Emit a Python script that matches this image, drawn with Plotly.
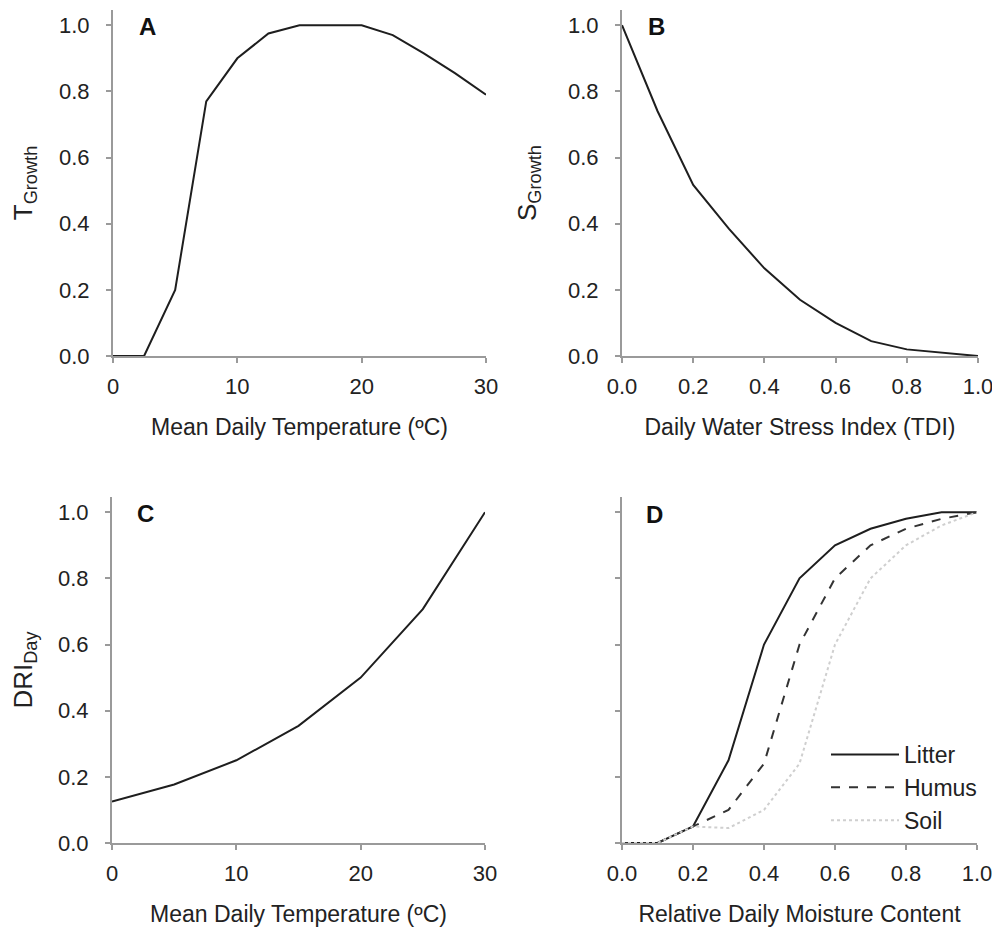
import plotly.graph_objects as go

# Panel A: temperature growth factor
a_temp = [0, 2.5, 5, 7.5, 10, 12.5, 15, 17.5, 20, 22.5, 25, 27.5, 30]
a_tgrowth = [0.0, 0.0, 0.20, 0.77, 0.90, 0.975, 1.0, 1.0, 1.0, 0.97, 0.915, 0.855, 0.79]

# Panel B: water stress growth factor
b_tdi = [0.0, 0.1, 0.2, 0.3, 0.4, 0.5, 0.6, 0.7, 0.8, 0.9, 1.0]
b_sgrowth = [1.0, 0.74, 0.517, 0.385, 0.265, 0.17, 0.10, 0.045, 0.02, 0.01, 0.0]

# Panel C: daily decomposition rate index
c_temp = [0, 5, 10, 15, 20, 25, 30]
c_dri = [0.125, 0.177, 0.25, 0.354, 0.50, 0.707, 1.0]

# Panel D: moisture response
d_moist = [0.0, 0.1, 0.2, 0.3, 0.4, 0.5, 0.6, 0.7, 0.8, 0.9, 1.0]
d_litter = [0.0, 0.0, 0.05, 0.25, 0.60, 0.80, 0.90, 0.95, 0.98, 1.0, 1.0]
d_humus = [0.0, 0.0, 0.05, 0.10, 0.24, 0.60, 0.80, 0.90, 0.95, 0.98, 1.0]
d_soil = [0.0, 0.0, 0.05, 0.045, 0.10, 0.24, 0.60, 0.80, 0.90, 0.96, 1.0]

x_ticks_temp = [0, 10, 20, 30]
x_ticks_frac = [0.0, 0.2, 0.4, 0.6, 0.8, 1.0]
y_ticks = [0.0, 0.2, 0.4, 0.6, 0.8, 1.0]

FONT = "Liberation Sans, Arial, sans-serif"
TXT = "#222222"
AX = "#9a9a9a"
LINE = "#1e1e1e"

# the page body has an 8px margin: the figure starts at (8, 8) on screen
OFF = 8
W = 1000 - OFF
H = 942 - OFF


def px(sx):
    return (sx - OFF) / W


def py(sy):
    return 1 - (sy - OFF) / H


fig = go.Figure()

fig.add_trace(go.Scatter(x=a_temp, y=a_tgrowth, mode="lines", xaxis="x", yaxis="y",
                         line=dict(color=LINE, width=2), showlegend=False))
fig.add_trace(go.Scatter(x=b_tdi, y=b_sgrowth, mode="lines", xaxis="x2", yaxis="y2",
                         line=dict(color=LINE, width=2), showlegend=False))
fig.add_trace(go.Scatter(x=c_temp, y=c_dri, mode="lines", xaxis="x3", yaxis="y3",
                         line=dict(color=LINE, width=2), showlegend=False))
fig.add_trace(go.Scatter(x=d_moist, y=d_litter, mode="lines", xaxis="x4", yaxis="y4",
                         name="Litter", line=dict(color=LINE, width=2)))
fig.add_trace(go.Scatter(x=d_moist, y=d_humus, mode="lines", xaxis="x4", yaxis="y4",
                         name="Humus", line=dict(color="#333333", width=2, dash="dash")))
fig.add_trace(go.Scatter(x=d_moist, y=d_soil, mode="lines", xaxis="x4", yaxis="y4",
                         name="Soil", line=dict(color="#cfcfcf", width=2, dash="dot")))

top_row = [py(356), py(10)]
bot_row = [py(843), py(497)]
YR = [0, 1.046]


def xax(domain, anchor, rng, ticks, fmt, title):
    return dict(domain=domain, anchor=anchor, range=rng, tickvals=ticks,
                ticktext=[fmt.format(t) for t in ticks], automargin=False,
                ticklabeloverflow="allow",
                showline=True, linecolor=AX, linewidth=2, ticks="outside",
                ticklen=5, tickwidth=1.5, tickcolor=AX, showgrid=False, zeroline=False,
                tickfont=dict(size=22, color=TXT, family=FONT), ticklabelstandoff=5,
                title=dict(text=title, font=dict(size=23, color=TXT, family=FONT), standoff=20))


def yax(domain, anchor, title, labels=True):
    d = dict(domain=domain, anchor=anchor, range=YR, tickvals=y_ticks,
             ticktext=["{:.1f}".format(t) for t in y_ticks], automargin=False,
             showticklabels=labels, ticklabeloverflow="allow",
             showline=True, linecolor=AX, linewidth=2, ticks="outside",
             ticklen=5, tickwidth=1.5, tickcolor=AX, showgrid=False, zeroline=False,
             tickfont=dict(size=22, color=TXT, family=FONT), ticklabelstandoff=12)
    if title:
        d["title"] = dict(text=title, font=dict(size=26, color=TXT, family=FONT), standoff=24)
    return d


fig.update_layout(
    width=W, height=H,
    margin=dict(l=0, r=0, t=0, b=0, autoexpand=False),
    paper_bgcolor="white", plot_bgcolor="white",
    font=dict(family=FONT, color=TXT),
    xaxis=xax([px(113), px(486)], "y", [0, 30], x_ticks_temp, "{:d}", "Mean Daily Temperature (ºC)"),
    yaxis=yax(top_row, "x", "T<sub>Growth</sub>"),
    xaxis2=xax([px(622), px(978)], "y2", [0, 1], x_ticks_frac, "{:.1f}", "Daily Water Stress Index (TDI)"),
    yaxis2=yax(top_row, "x2", "S<sub>Growth</sub>"),
    xaxis3=xax([px(112), px(485)], "y3", [0, 30], x_ticks_temp, "{:d}", "Mean Daily Temperature (ºC)"),
    yaxis3=yax(bot_row, "x3", "DRI<sub>Day</sub>"),
    xaxis4=xax([px(622), px(977)], "y4", [0, 1], x_ticks_frac, "{:.1f}", "Relative Daily Moisture Content"),
    yaxis4=yax(bot_row, "x4", None, labels=False),
    legend=dict(x=px(826), y=py(733), xanchor="left", yanchor="top",
                bgcolor="rgba(0,0,0,0)", itemwidth=68, tracegroupgap=0,
                font=dict(size=23, color=TXT, family=FONT)),
    showlegend=True,
)

letters = [("A", 147, 26), ("B", 656, 26), ("C", 145, 513), ("D", 654, 514)]
for txt, lx, ly in letters:
    fig.add_annotation(text="<b>" + txt + "</b>", x=px(lx), y=py(ly),
                       xref="paper", yref="paper", showarrow=False,
                       xanchor="center", yanchor="middle",
                       font=dict(size=24, color="#111111", family=FONT))

fig.write_html("out.html")
